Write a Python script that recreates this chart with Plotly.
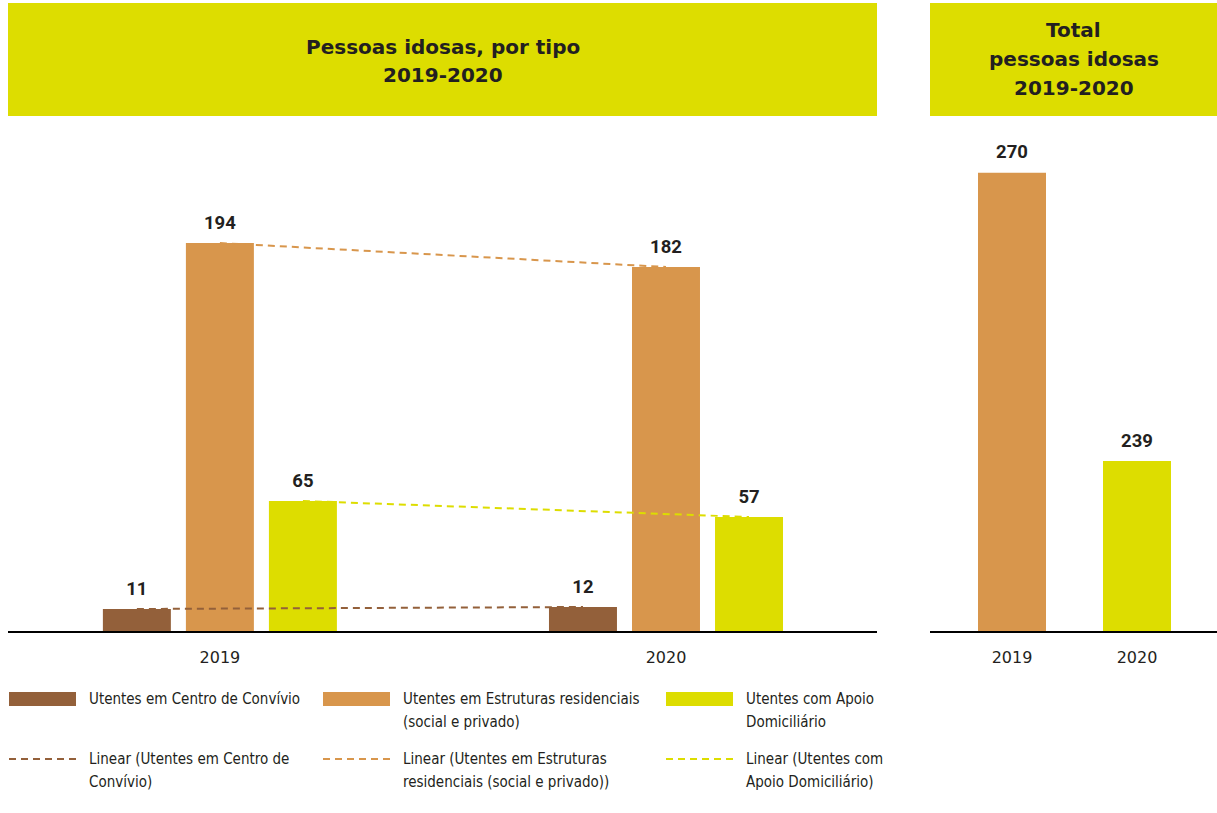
import plotly.graph_objects as go

# ---------------- data ----------------
years = ["2019", "2020"]
centro_convivio = [11, 12]
estruturas_residenciais = [194, 182]
apoio_domiciliario = [65, 57]
total_idosos = [270, 239]

series_names = [
    "Utentes em Centro de Convívio",
    "Utentes em Estruturas residenciais (social e privado)",
    "Utentes com Apoio Domiciliário",
]
legend_lines = [
    ["Utentes em Centro de Convívio"],
    ["Utentes em Estruturas residenciais", "(social e privado)"],
    ["Utentes com Apoio", "Domiciliário"],
]
trend_lines = [
    ["Linear (Utentes em Centro de", "Convívio)"],
    ["Linear (Utentes em Estruturas", "residenciais (social e privado))"],
    ["Linear (Utentes com", "Apoio Domiciliário)"],
]
title_left = ["Pessoas idosas, por tipo", "2019-2020"]
title_right = ["Total", "pessoas idosas", "2019-2020"]

# ---------------- style ----------------
W, H = 1217, 813
BROWN = "#93603A"
ORANGE = "#D8964C"
YELLOW = "#DDDD00"
TXT = "#231F20"
LEGFONT = "DejaVu Sans Condensed, sans-serif"
LABFONT = "Roboto, sans-serif"
WIDE = "DejaVu Sans, Verdana, sans-serif"
colors = [BROWN, ORANGE, YELLOW]
values = [centro_convivio, estruturas_residenciais, apoio_domiciliario]


def px(x):
    return x / W


def py(y):
    return 1 - y / H


fig = go.Figure()

# grouped bars (left panel)
for i, (name, vals, col) in enumerate(zip(series_names, values, colors)):
    fig.add_trace(go.Bar(
        x=years, y=vals, name=name, marker=dict(color=col, line=dict(width=0)),
        offsetgroup=f"g{i}", xaxis="x", yaxis="y", showlegend=False,
    ))

# linear trend lines + data labels (aligned with the bars)
for i, (name, vals, col) in enumerate(zip(series_names, values, colors)):
    fig.add_trace(go.Scatter(
        x=years, y=vals, name=f"Linear ({name})",
        mode="lines+markers+text",
        line=dict(color=col, width=2, dash="7px,5px"),
        marker=dict(size=14, color="rgba(0,0,0,0)"),
        texttemplate="%{y}", textposition="top center",
        textfont=dict(family=LABFONT, size=18.5, color=TXT, weight="bold"),
        offsetgroup=f"g{i}", xaxis="x", yaxis="y", showlegend=False,
        cliponaxis=False,
    ))

# totals (right panel)
fig.add_trace(go.Bar(
    x=years, y=total_idosos, marker=dict(color=[ORANGE, YELLOW], line=dict(width=0)),
    width=0.544, xaxis="x2", yaxis="y2", showlegend=False,
))
fig.add_trace(go.Scatter(
    x=years, y=total_idosos, mode="markers+text",
    marker=dict(size=14, color="rgba(0,0,0,0)"),
    texttemplate="%{y}", textposition="top center",
    textfont=dict(family=LABFONT, size=18.5, color=TXT, weight="bold"),
    xaxis="x2", yaxis="y2", showlegend=False, cliponaxis=False,
))

ydom = [py(631), py(131)]
tickfont = dict(family=WIDE, size=16, color=TXT)

fig.update_layout(
    width=W, height=H, autosize=False,
    margin=dict(l=0, r=0, t=0, b=0),
    paper_bgcolor="white", plot_bgcolor="white",
    barmode="group", bargap=0.4417, bargroupgap=0.181,
    scattermode="group", scattergap=0.4417,
    showlegend=False,
    xaxis=dict(domain=[px(8), px(877)], range=[-0.475, 1.473], type="category",
               showline=True, linecolor="black", linewidth=2, ticks="",
               showgrid=False, zeroline=False, tickfont=tickfont,
               ticklabelstandoff=11, anchor="y"),
    yaxis=dict(domain=ydom, range=[0, 250], visible=False, anchor="x"),
    xaxis2=dict(domain=[px(930), 1], range=[-0.656, 1.64], type="category",
                showline=True, linecolor="black", linewidth=2, ticks="",
                showgrid=False, zeroline=False, tickfont=tickfont,
                ticklabelstandoff=11, anchor="y2"),
    yaxis2=dict(domain=ydom, range=[220.7, 274.5], visible=False, anchor="x2"),
)

# title boxes
shapes = [
    dict(type="rect", xref="paper", yref="paper", x0=px(8), x1=px(877), y0=py(116), y1=py(3),
         fillcolor=YELLOW, line=dict(width=0), layer="below"),
    dict(type="rect", xref="paper", yref="paper", x0=px(930), x1=px(1217), y0=py(116), y1=py(3),
         fillcolor=YELLOW, line=dict(width=0), layer="below"),
]
annotations = []
title_font = dict(family=WIDE, size=20, color=TXT, weight="bold")
for line, ypx in zip(title_left, [47, 75]):
    annotations.append(dict(text=line, x=px(442.5), y=py(ypx), xref="paper", yref="paper",
                            xanchor="center", yanchor="middle", showarrow=False, font=title_font))
for line, ypx in zip(title_right, [30, 59, 88]):
    annotations.append(dict(text=line, x=px(1073.5), y=py(ypx), xref="paper", yref="paper",
                            xanchor="center", yanchor="middle", showarrow=False, font=title_font))

# custom legend (3 columns x 2 rows)
col_x = [9, 323, 666]
sym_w = 67
text_dx = 78
leg_font = dict(family=LEGFONT, size=15, color=TXT)
for i in range(3):
    x0 = col_x[i]
    shapes.append(dict(type="rect", xref="paper", yref="paper",
                       x0=px(x0), x1=px(x0 + sym_w), y0=py(706), y1=py(692),
                       fillcolor=colors[i], line=dict(width=0)))
    shapes.append(dict(type="line", xref="paper", yref="paper",
                       x0=px(x0), x1=px(x0 + sym_w), y0=py(759), y1=py(759),
                       line=dict(color=colors[i], width=2, dash="7px,5px")))
    for lines, ystart in ((legend_lines[i], 699), (trend_lines[i], 759)):
        for k, line in enumerate(lines):
            annotations.append(dict(text=line, x=px(x0 + text_dx), y=py(ystart + 23 * k),
                                    xref="paper", yref="paper", xanchor="left",
                                    yanchor="middle", align="left", showarrow=False,
                                    font=leg_font))

fig.update_layout(shapes=shapes, annotations=annotations)
fig.write_html("out.html")
